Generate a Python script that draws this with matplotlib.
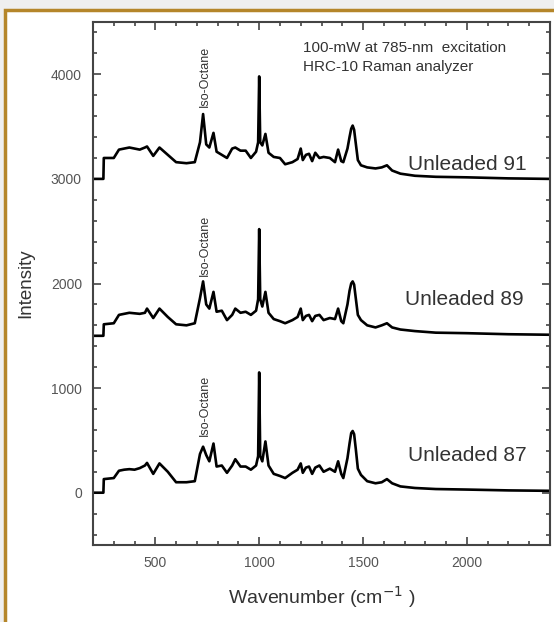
#Raman spectra of unleaded gasoline grades
import matplotlib
matplotlib.use("Agg")
import matplotlib.pyplot as plt
from matplotlib.patches import Rectangle
from matplotlib.ticker import MultipleLocator

plt.rcParams['font.family'] = ['Liberation Sans', 'DejaVu Sans']

# wavenumber points (cm-1)
wavenumber = [200, 250, 252, 300, 325, 350, 375, 400, 425, 450, 460, 490, 520, 560, 600, 650, 690,
              715, 730, 745, 760, 780, 795, 820, 845, 870, 885, 910, 935, 960, 985, 995,
              1000, 1005, 1015, 1030, 1045, 1070, 1100, 1125, 1160, 1185, 1200, 1210, 1225,
              1240, 1255, 1270, 1290, 1310, 1340, 1365, 1380, 1395, 1405, 1425, 1435, 1443,
              1450, 1457, 1465, 1475, 1490, 1520, 1560, 1590, 1615, 1640, 1680, 1750, 1850,
              2000, 2200, 2400]

unleaded_91 = [3000, 3000, 3200, 3200, 3280, 3290, 3300, 3290, 3280, 3300, 3310, 3220, 3300, 3230, 3160, 3150, 3160,
               3350, 3620, 3330, 3300, 3440, 3260, 3230, 3200, 3290, 3300, 3270, 3270, 3200, 3260, 3350,
               3980, 3350, 3320, 3430, 3250, 3210, 3200, 3140, 3160, 3190, 3290, 3180, 3230,
               3240, 3170, 3250, 3200, 3210, 3200, 3160, 3280, 3170, 3160, 3290, 3400, 3480,
               3510, 3470, 3340, 3180, 3130, 3110, 3100, 3110, 3130, 3080, 3050, 3030, 3020,
               3015, 3005, 3000]

unleaded_89 = [1500, 1500, 1610, 1620, 1700, 1710, 1720, 1715, 1710, 1720, 1760, 1670, 1760, 1680, 1610, 1600, 1620,
               1860, 2020, 1800, 1760, 1920, 1730, 1740, 1650, 1700, 1760, 1720, 1730, 1700, 1740, 1850,
               2520, 1850, 1780, 1920, 1720, 1660, 1640, 1620, 1650, 1680, 1760, 1650, 1690,
               1700, 1640, 1690, 1700, 1650, 1670, 1660, 1760, 1640, 1620, 1800, 1930, 2000,
               2020, 1990, 1860, 1700, 1650, 1600, 1580, 1600, 1620, 1580, 1560, 1545, 1530,
               1525, 1515, 1510]

unleaded_87 = [0, 0, 130, 140, 210, 220, 225, 220, 235, 260, 285, 180, 280, 200, 100, 100, 110,
               370, 440, 360, 300, 470, 250, 260, 190, 260, 320, 250, 250, 220, 260, 350,
               1150, 350, 300, 490, 260, 180, 160, 140, 190, 220, 280, 190, 240,
               250, 180, 240, 260, 200, 230, 200, 300, 180, 140, 330, 470, 570,
               590, 560, 420, 230, 170, 110, 90, 100, 130, 90, 60, 45, 35,
               30, 22, 18]

spectra = [unleaded_91, unleaded_89, unleaded_87]
grade_names = ["Unleaded 91", "Unleaded 89", "Unleaded 87"]
grade_label_pos = [(1716, 3133), (1700, 1848), (1716, 352)]
iso_label_pos = [(740, 3690), (740, 2070), (740, 545)]

fig = plt.figure(figsize=(5.54, 6.22), dpi=100)
fig.patch.set_facecolor('#efefef')
# gold frame round the figure
fig.add_artist(Rectangle((5/554, -0.05), 1.2, (622-10)/622 + 0.05, transform=fig.transFigure,
                         facecolor='white', edgecolor='#b5862a', linewidth=2.5, zorder=0))

ax = fig.add_axes([93/554, 77/622, (550-93)/554, (545-22)/622])
ax.set_facecolor('white')

for s in spectra:
    ax.plot(wavenumber, s, color='black', linewidth=1.9)

for name, (x, y) in zip(grade_names, grade_label_pos):
    ax.text(x, y, name, fontsize=15, color='#333333', va='center', ha='left')

for (x, y) in iso_label_pos:
    ax.text(x, y, "Iso-Octane", fontsize=9, color='#333333', rotation=90, ha='center', va='bottom')

ax.text(1212, 4248, "100-mW at 785-nm  excitation", fontsize=11, color='#333333', va='center')
ax.text(1212, 4067, "HRC-10 Raman analyzer", fontsize=11, color='#333333', va='center')

ax.set_xlim(200, 2400)
ax.set_ylim(-500, 4500)
ax.set_xticks([500, 1000, 1500, 2000])
ax.set_yticks([0, 1000, 2000, 3000, 4000])
ax.xaxis.set_minor_locator(MultipleLocator(100))
ax.yaxis.set_minor_locator(MultipleLocator(200))
ax.tick_params(which='both', direction='in', top=True, right=True, colors='#444444',
               labelcolor='#555555', labelsize=10, width=1.2)
ax.tick_params(which='major', length=6, pad=8)
ax.tick_params(which='minor', length=3)
for sp in ax.spines.values():
    sp.set_color('#444444')
    sp.set_linewidth(1.5)

ax.set_xlabel("Wavenumber (cm$^{-1}$ )", fontsize=14, color='#333333', labelpad=10)
ax.set_ylabel("Intensity", fontsize=13.5, color='#333333', labelpad=12)

fig.savefig("out.png", dpi=100)
